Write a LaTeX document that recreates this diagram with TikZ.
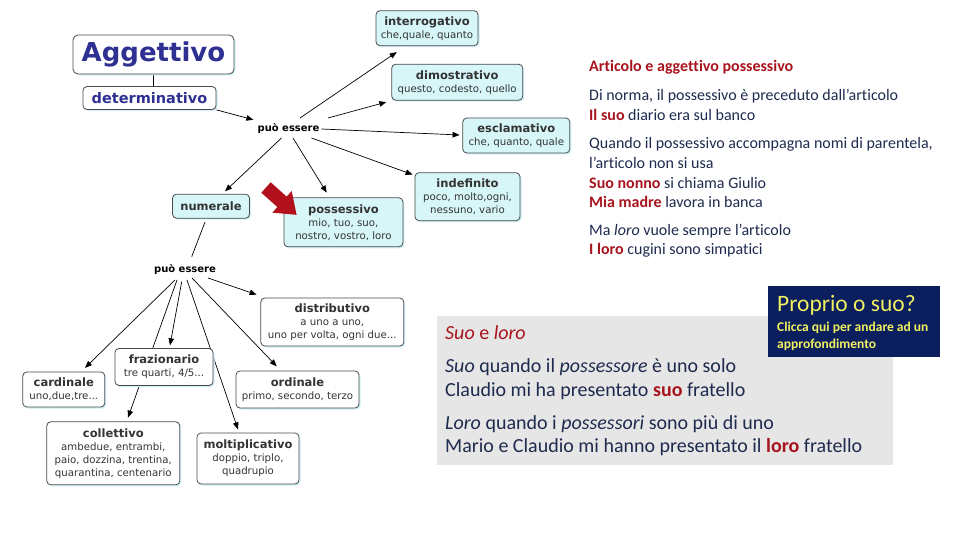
\documentclass[tikz,border=0pt]{standalone}
\usepackage{fontspec}
\setmainfont{Carlito}[Ligatures=NoCommon]
\newfontfamily\dv{DejaVu Sans}
\usetikzlibrary{arrows.meta,calc,shadows,backgrounds}
\definecolor{cyanbox}{HTML}{D6F6F8}
\definecolor{boxline}{HTML}{4A4A4A}
\definecolor{navytxt}{HTML}{2E3192}
\definecolor{darkred}{HTML}{A8141E}
\definecolor{bodytxt}{HTML}{1E2A4E}
\definecolor{graybox}{HTML}{E6E6E6}
\definecolor{navybox}{HTML}{0B1F5E}
\definecolor{yel}{HTML}{F0F060}
\definecolor{shadowc}{HTML}{CDEFF5}
\definecolor{redarrow}{HTML}{B3101E}
\newcommand\bt[1]{{\bfseries\fontsize{11.5}{13}\selectfont #1}}
\begin{document}
\begin{tikzpicture}[x=1pt,y=-1pt,
 cbox/.style={draw=boxline, line width=0.8pt, rounded corners=4pt, fill=cyanbox, align=center, inner sep=1pt,
   font=\dv\fontsize{10.2}{13}\selectfont, text=black!80,
   drop shadow={shadow xshift=1.5pt,shadow yshift=-1.5pt,fill=shadowc,opacity=1}},
 wbox/.style={cbox, fill=white},
 lbl/.style={font=\dv\bfseries\fontsize{10}{12}\selectfont, inner sep=1pt},
 edge/.style={line width=0.7pt, -{Triangle[length=7pt,width=5.5pt]}},
 plain/.style={line width=0.7pt},
 rt/.style={anchor=west, inner sep=0pt, font=\fontsize{16}{18}\selectfont, text=bodytxt},
 gt/.style={anchor=west, inner sep=0pt, font=\fontsize{20}{22}\selectfont, text=bodytxt},
 yt/.style={anchor=west, inner sep=0pt, text=yel},
]
\useasboundingbox (0,0) rectangle (960,540);

% --- concept map nodes
\node[wbox, rounded corners=5pt, minimum width=161pt, minimum height=39pt, font=\dv\bfseries\fontsize{26}{28}\selectfont, text=navytxt] (agg) at (153.5,54.5) {Aggettivo};
\node[wbox, minimum width=133pt, minimum height=23pt, font=\dv\bfseries\fontsize{14.5}{16}\selectfont, text=navytxt] (det) at (149.5,98) {determinativo};
\node[lbl] (pe1) at (288.5,129) {può essere};
\node[cbox, minimum width=102pt, minimum height=35pt] (interr) at (427,28.2) {\bt{interrogativo}\\che,quale, quanto};
\node[cbox, minimum width=131pt, minimum height=36pt] (dimo) at (457.2,82.2) {\bt{dimostrativo}\\questo, codesto, quello};
\node[cbox, minimum width=107pt, minimum height=35pt] (escl) at (516.3,135.5) {\bt{esclamativo}\\che, quanto, quale};
\node[cbox, minimum width=105pt, minimum height=48pt] (indef) at (467.5,196.7) {\bt{indefinito}\\poco, molto,ogni,\\nessuno, vario};
\node[cbox, minimum width=119pt, minimum height=49pt] (poss) at (343.4,222.3) {\bt{possessivo}\\mio, tuo, suo,\\nostro, vostro, loro};
\node[cbox, minimum width=77pt, minimum height=24pt] (num) at (211,206.2) {\bt{numerale}};
\node[lbl] (pe2) at (185,270) {può essere};
\node[wbox, minimum width=143pt, minimum height=48pt] (distr) at (332.3,322) {\bt{distributivo}\\a uno a uno,\\uno per volta, ogni due...};
\node[wbox, minimum width=98pt, minimum height=37pt] (fraz) at (164,367) {\bt{frazionario}\\tre quarti, 4/5...};
\node[wbox, minimum width=82pt, minimum height=35pt] (card) at (63.8,389.5) {\bt{cardinale}\\uno,due,tre...};
\node[wbox, minimum width=123pt, minimum height=37pt] (ord) at (297.5,389.5) {\bt{ordinale}\\primo, secondo, terzo};
\node[wbox, minimum width=133pt, minimum height=63pt] (coll) at (113.3,453.3) {\bt{collettivo}\\ambedue, entrambi,\\paio, dozzina, trentina,\\quarantina, centenario};
\node[wbox, minimum width=102pt, minimum height=51pt] (molt) at (248,458.5) {\bt{moltiplicativo}\\doppio, triplo,\\quadrupio};

% --- connectors (behind boxes)
\begin{scope}[on background layer]
\draw[plain] (agg.south) -- (agg.south |- det.north);
\draw[edge] (det.south east) -- ($(pe1.north west)+(-3,-3)$);
\draw[edge] ($(pe1)+(11.5,-11)$) -- ($(interr.south)+(-30.3,6)$);
\draw[edge] ($(pe1)+(39.5,-11)$) -- ($(dimo.south west)+(-5,1.5)$);
\draw[edge] ($(pe1)+(33,0)$) -- ($(escl.west)+(-2.8,-0.5)$);
\draw[edge] ($(pe1)+(23,9)$) -- ($(indef.north west)+(-2,2.3)$);
\draw[edge] ($(pe1)+(4.5,9)$) -- ($(poss.north)+(-16.7,-4.8)$);
\draw[edge] ($(pe1)+(-7,9)$) -- ($(num.north)+(14,-2.5)$);
\draw[plain] ($(num.south)+(-6,3.5)$) -- ($(pe2)+(6.7,-13.3)$);
\draw[edge] ($(pe2)+(23,8)$) -- ($(distr.north west)+(-3.8,-3)$);
\draw[edge] ($(pe2)+(-10,10)$) -- ($(card.north)+(21.2,-3.7)$);
\draw[edge] ($(pe2)+(-3.3,11.7)$) -- ($(fraz.north)+(6,-2.8)$);
\draw[edge] ($(pe2)+(-8,10)$) -- ($(coll.north)+(14.7,-3.8)$);
\draw[edge] ($(pe2)+(2,10)$) -- ($(molt.north)+(-10,-3.2)$);
\draw[edge] ($(pe2)+(7,8)$) -- ($(ord.north)+(-20.8,-4.3)$);
\end{scope}

% --- red block arrow
\fill[redarrow, shift={(266,187.5)}, rotate=-41.8]
  (0,-7) -- (21.5,-7) -- (21.5,-14.5) -- (41,0) -- (21.5,14.5) -- (21.5,7) -- (0,7) -- cycle;

% --- right-hand text
\node[rt, font=\bfseries\fontsize{16}{18}\selectfont, text=darkred] (t1) at (589,67) {Articolo e aggettivo possessivo};
\node[rt] (t2) at (589,96.5) {Di norma, il possessivo è preceduto dall’articolo};
\node[rt] (t3) at (589,115) {\textcolor{darkred}{\textbf{Il suo}} diario era sul banco};
\node[rt] (t4) at (589,144) {Quando il possessivo accompagna nomi di parentela,};
\node[rt] (t5) at (589,163.3) {l’articolo non si usa};
\node[rt] (t6) at (589,183.3) {\textcolor{darkred}{\textbf{Suo nonno}} si chiama Giulio};
\node[rt] (t7) at (589,202) {\textcolor{darkred}{\textbf{Mia madre}} lavora in banca};
\node[rt] (t8) at (589,231.5) {Ma \textit{loro} vuole sempre l’articolo};
\node[rt] (t9) at (589,250.5) {\textcolor{darkred}{\textbf{I loro}} cugini sono simpatici};

% --- grey panel
\node[fill=graybox, minimum width=456pt, minimum height=149pt, inner sep=0pt] (gbox) at (664.7,390.5) {};
\node[gt, text=darkred] (g1) at (445,333) {\textit{Suo} e \textit{loro}};
\node[gt] (g2) at (445,367) {\textit{Suo} quando il \textit{possessore} è uno solo};
\node[gt] (g3) at (445,390.7) {Claudio mi ha presentato \textcolor{darkred}{\textbf{suo}} fratello};
\node[gt] (g4) at (445,424) {\textit{Loro} quando i \textit{possessori} sono più di uno};
\node[gt] (g5) at (445,447) {Mario e Claudio mi hanno presentato il \textcolor{darkred}{\textbf{loro}} fratello};

% --- navy link box
\node[fill=navybox, minimum width=172pt, minimum height=70.7pt, inner sep=0pt] (nbox) at (854,321.3) {};
\node[yt, font=\fontsize{23.5}{25}\selectfont] (n1) at (777,305) {Proprio o suo?};
\node[yt, font=\bfseries\fontsize{13.5}{15}\selectfont] (n2) at (777,328.3) {Clicca qui per andare ad un};
\node[yt, font=\bfseries\fontsize{13.5}{15}\selectfont] (n3) at (777,344.5) {approfondimento};
\end{tikzpicture}
\end{document}
